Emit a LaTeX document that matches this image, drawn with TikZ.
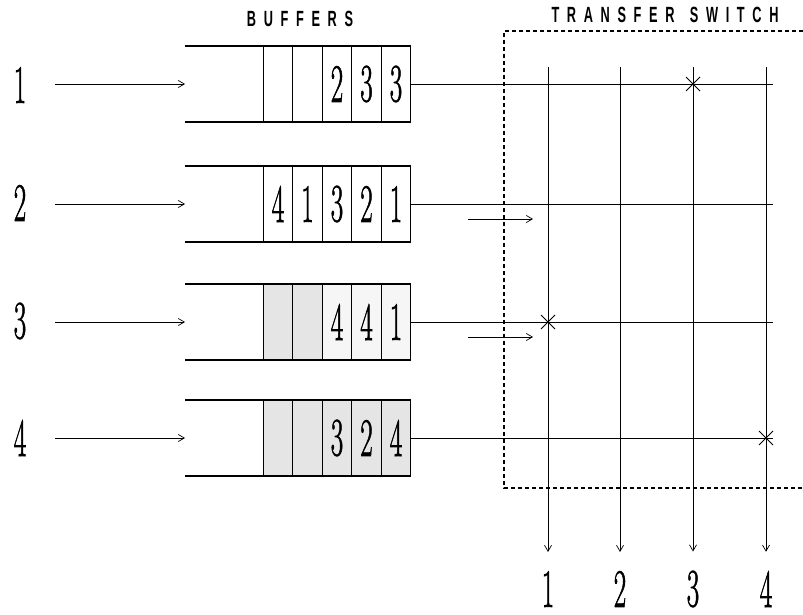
\documentclass[tikz,border=0pt]{standalone}
\usepackage{graphicx}
\usepackage{fontspec}
\newfontfamily\capsfont{Liberation Sans}
\newfontfamily\digitfont[FakeBold=1.6]{Latin Modern Roman}
\usetikzlibrary{
  arrows.meta,
  positioning,
  shapes.misc
}
\tikzset{
  cell/.style={draw, line width=1.1pt, minimum width=29.5pt, minimum height=76pt,
    inner sep=0pt, outer sep=0pt},
  heavycell/.style={cell, fill=gray!20},
  lightcell/.style={cell, fill=gray!7},
  frame/.style={line width=1.1pt},
  tag/.style={inner sep=0pt},
  arr/.style={-{Straight Barb[length=6pt, width=7pt]}, line width=0.7pt},
  wire/.style={line width=0.8pt},
  xpt/.style={draw, cross out, line width=1pt, minimum size=13pt, inner sep=0pt},
}
\newcommand{\dg}[1]{\scalebox{0.5}[1]{\digitfont\fontsize{54}{54}\selectfont #1}}
\newcommand{\ttl}[1]{\scalebox{0.58}[1]{\capsfont\bfseries\fontsize{22}{22}\selectfont\spaceskip=0.6em\relax #1}}

\begin{document}
\begin{tikzpicture}[x=1pt, y=-1pt]
  \useasboundingbox (0,0) rectangle (803,615);

  % titles
  \node (buftitle) at (300,19) {\ttl{B U F F E R S}};
  \node (swtitle) at (665,15) {\ttl{T R A N S F E R \ S W I T C H}};

  % buffer 1
  \node[cell] (b1-1) at (278,84) {};
  \node[cell, right=0pt of b1-1] (b1-2) {};
  \node[cell, right=0pt of b1-2] (b1-3) {\dg{2}};
  \node[cell, right=0pt of b1-3] (b1-4) {\dg{3}};
  \node[cell, right=0pt of b1-4] (b1-5) {\dg{3}};
  % buffer 2
  \node[cell] (b2-1) at (278,204) {\dg{4}};
  \node[cell, right=0pt of b2-1] (b2-2) {\dg{1}};
  \node[cell, right=0pt of b2-2] (b2-3) {\dg{3}};
  \node[cell, right=0pt of b2-3] (b2-4) {\dg{2}};
  \node[cell, right=0pt of b2-4] (b2-5) {\dg{1}};
  % buffer 3
  \node[heavycell] (b3-1) at (278,322) {};
  \node[heavycell, right=0pt of b3-1] (b3-2) {};
  \node[lightcell, right=0pt of b3-2] (b3-3) {\dg{4}};
  \node[lightcell, right=0pt of b3-3] (b3-4) {\dg{4}};
  \node[lightcell, right=0pt of b3-4] (b3-5) {\dg{1}};
  % buffer 4
  \node[heavycell] (b4-1) at (278,438) {};
  \node[heavycell, right=0pt of b4-1] (b4-2) {};
  \node[heavycell, right=0pt of b4-2] (b4-3) {\dg{3}};
  \node[heavycell, right=0pt of b4-3] (b4-4) {\dg{2}};
  \node[heavycell, right=0pt of b4-4] (b4-5) {\dg{4}};

  % open ends of the buffers
  \coordinate (m1) at (185,84);
  \coordinate (m2) at (185,204);
  \coordinate (m3) at (185,322);
  \coordinate (m4) at (185,438);
  \draw[frame] (m1 |- b1-1.north) -- (b1-1.north west);
  \draw[frame] (m1 |- b1-1.south) -- (b1-1.south west);
  \draw[frame] (m2 |- b2-1.north) -- (b2-1.north west);
  \draw[frame] (m2 |- b2-1.south) -- (b2-1.south west);
  \draw[frame] (m3 |- b3-1.north) -- (b3-1.north west);
  \draw[frame] (m3 |- b3-1.south) -- (b3-1.south west);
  \draw[frame] (m4 |- b4-1.north) -- (b4-1.north west);
  \draw[frame] (m4 |- b4-1.south) -- (b4-1.south west);

  % inputs
  \node[tag] (i1) at (20,85) {\dg{1}};
  \node[tag] (i2) at (20,203) {\dg{2}};
  \node[tag] (i3) at (20,321) {\dg{3}};
  \node[tag] (i4) at (20,438) {\dg{4}};
  \coordinate (s1) at (55,84);
  \coordinate (s2) at (55,204);
  \coordinate (s3) at (55,322);
  \coordinate (s4) at (55,438);
  \draw[arr] (s1) -- (m1);
  \draw[arr] (s2) -- (m2);
  \draw[arr] (s3) -- (m3);
  \draw[arr] (s4) -- (m4);

  % transfer switch
  \draw[dash pattern=on 4pt off 3pt, line width=1.1pt] (803,31) -| (504,488) -- (803,488);
  \coordinate (e1) at (773,84);
  \coordinate (e2) at (773,204);
  \coordinate (e3) at (773,322);
  \coordinate (e4) at (773,438);
  \draw[wire] (b1-5) -- (e1);
  \draw[wire] (b2-5) -- (e2);
  \draw[wire] (b3-5) -- (e3);
  \draw[wire] (b4-5) -- (e4);

  \coordinate (c1) at (548,67);
  \coordinate (c2) at (620,67);
  \coordinate (c3) at (693,67);
  \coordinate (c4) at (766,67);
  \node[tag] (o1) at (548,589) {\dg{1}};
  \node[tag] (o2) at (620,589) {\dg{2}};
  \node[tag] (o3) at (693,589) {\dg{3}};
  \node[tag] (o4) at (766,589) {\dg{4}};
  \draw[arr, shorten >=19pt] (c1) -- (o1);
  \draw[arr, shorten >=19pt] (c2) -- (o2);
  \draw[arr, shorten >=19pt] (c3) -- (o3);
  \draw[arr, shorten >=19pt] (c4) -- (o4);

  \node[xpt] (x1) at (c3 |- b1-5) {};
  \node[xpt] (x2) at (c1 |- b3-5) {};
  \node[xpt] (x3) at (c4 |- b4-5) {};

  % pending requests
  \coordinate (p2) at (468,219);
  \coordinate (q2) at (533,219);
  \coordinate (p3) at (468,337);
  \coordinate (q3) at (533,337);
  \draw[arr] (p2) -- (q2);
  \draw[arr] (p3) -- (q3);
\end{tikzpicture}
\end{document}
